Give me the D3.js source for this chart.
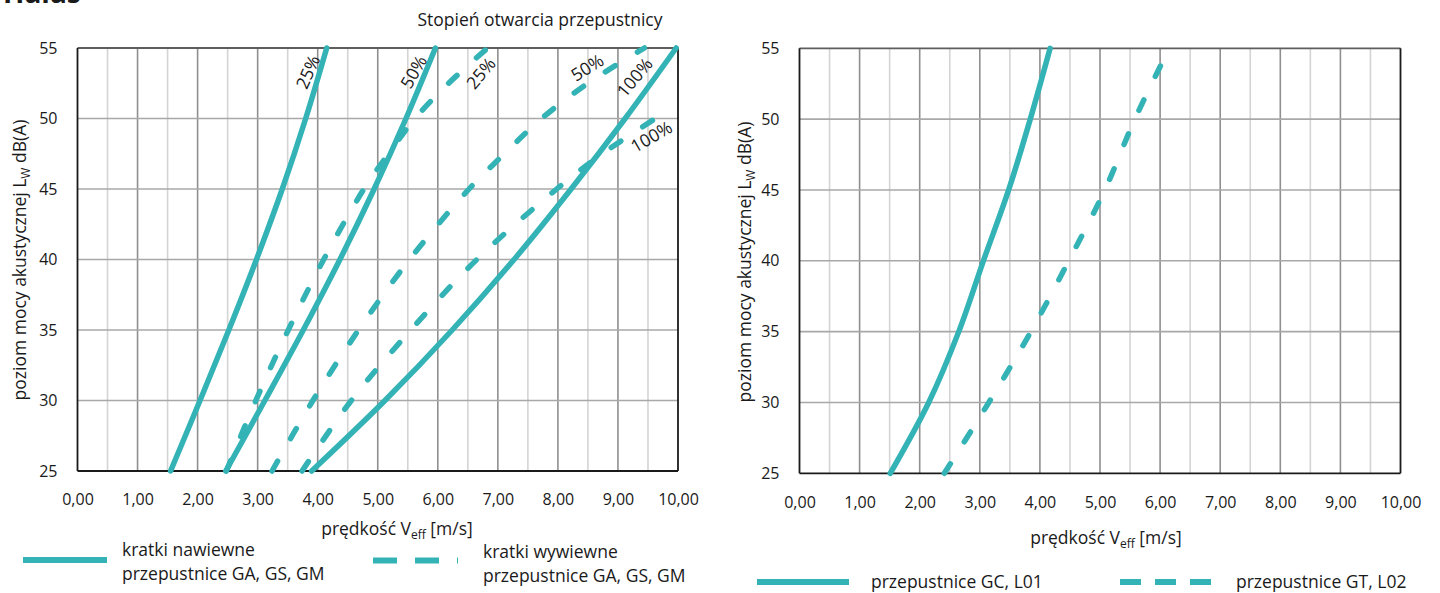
<!DOCTYPE html>
<html>
<head>
<meta charset="utf-8">
<script src="https://cdn.jsdelivr.net/npm/d3@7"></script>
<style>
  body { margin: 0; background: #fff; }
  text { font-family: "Open Sans", "Noto Sans", sans-serif; fill: #1a1a1a; }
</style>
</head>
<body>
<svg id="chart" width="1440" height="593"></svg>
<script>
// ---- data: sound power level L_W [dB(A)] vs. effective velocity [m/s] ----
const velocityTicks = [0, 1, 2, 3, 4, 5, 6, 7, 8, 9, 10];
const levelTicks = [25, 30, 35, 40, 45, 50, 55];

// supply grilles, dampers GA, GS, GM (solid)
const supplyLevels = [25, 30, 35, 40, 45, 50, 55];
const supply25 = [1.55, 2.04, 2.52, 2.98, 3.41, 3.80, 4.15];
const supply50 = [2.47, 3.12, 3.76, 4.37, 4.94, 5.47, 5.96];
const supply100 = [3.90, 5.12, 6.24, 7.27, 8.22, 9.12, 9.97];

// exhaust grilles, dampers GA, GS, GM (dashed)
const exhaust25Levels = [25, 30, 35, 40, 45, 47.5, 50, 52.5, 55];
const exhaust25 = [2.48, 2.97, 3.51, 4.10, 4.77, 5.18, 5.62, 6.18, 6.83];
const exhaust50Levels = [25, 30, 35, 40, 45, 47.5, 50, 52.5, 55];
const exhaust50 = [3.24, 3.92, 4.68, 5.53, 6.52, 7.11, 7.73, 8.50, 9.44];
const exhaust100Levels = [25, 30, 35, 40, 45, 47.5, 50.4];
const exhaust100 = [3.74, 4.56, 5.55, 6.65, 7.98, 8.74, 9.77];

// dampers GC, L01 (solid) and GT, L02 (dashed)
const gcLevels = [25, 30, 35, 40, 45, 50, 55];
const gcVelocity = [1.51, 2.15, 2.65, 3.06, 3.48, 3.84, 4.17];
const gtLevels = [25, 30, 35, 40, 45, 50, 54.3];
const gtVelocity = [2.41, 3.15, 3.85, 4.48, 5.08, 5.58, 6.07];

// opening-degree labels placed along the curves (value coordinates)
const openingLabels = ["25%", "50%", "25%", "50%", "100%", "100%"];
const openingLabelV = [3.84, 5.60, 6.72, 8.49, 9.28, 9.56];
const openingLabelL = [53.3, 53.3, 53.2, 53.6, 52.9, 48.7];
const openingLabelAngle = [-66, -60, -50, -32, -50, -30];

// ---- drawing ----
const TEAL = "#33b3b5";
const TEXT_SIZE = 17.5;
const svg = d3.select("#chart");
const fmt = d => d.toFixed(2).replace(".", ",");

function panel(left, right, top, bottom) {
  const x = d3.scaleLinear().domain([0, 10]).range([left, right]);
  const y = d3.scaleLinear().domain([25, 55]).range([bottom, top]);
  const g = svg.append("g");

  // vertical grid: every 0.5 m/s, integer lines darker
  const halfSteps = d3.range(1, 20).map(i => i / 2);
  g.selectAll(".vgrid").data(halfSteps).join("line")
    .attr("x1", d => x(d)).attr("x2", d => x(d))
    .attr("y1", top).attr("y2", bottom)
    .attr("stroke", d => Number.isInteger(d) ? "#8f8f8f" : "#d4d4d4")
    .attr("stroke-width", 1.6);
  // horizontal grid
  g.selectAll(".hgrid").data(levelTicks.slice(1, -1)).join("line")
    .attr("x1", left).attr("x2", right)
    .attr("y1", d => y(d)).attr("y2", d => y(d))
    .attr("stroke", "#a8a8a8").attr("stroke-width", 1.6);

  // frame
  g.append("line").attr("x1", left).attr("x2", right).attr("y1", top).attr("y2", top)
    .attr("stroke", "#5e5e5e").attr("stroke-width", 1.8);
  g.append("line").attr("x1", left).attr("x2", left).attr("y1", top).attr("y2", bottom)
    .attr("stroke", "#1a1a1a").attr("stroke-width", 1.8);
  g.append("line").attr("x1", right).attr("x2", right).attr("y1", top).attr("y2", bottom)
    .attr("stroke", "#1a1a1a").attr("stroke-width", 1.8);
  g.append("line").attr("x1", left).attr("x2", right).attr("y1", bottom).attr("y2", bottom)
    .attr("stroke", "#1a1a1a").attr("stroke-width", 1.8);

  // axes
  const xAxis = g.append("g").attr("transform", `translate(0,${bottom})`)
    .call(d3.axisBottom(x).tickValues(velocityTicks).tickFormat(fmt).tickSize(0).tickPadding(23));
  const yAxis = g.append("g").attr("transform", `translate(${left},0)`)
    .call(d3.axisLeft(y).tickValues(levelTicks).tickSize(0).tickPadding(20));
  [xAxis, yAxis].forEach(a => {
    a.select(".domain").remove();
    a.selectAll("text").attr("font-size", 16).attr("font-family", null).attr("fill", "#1a1a1a");
  });
  return { x, y, g };
}

function curve(p, vel, lev, dashed) {
  const pts = vel.map((v, i) => [v, lev[i]]);
  const line = d3.line().x(d => p.x(d[0])).y(d => p.y(d[1])).curve(d3.curveCatmullRom.alpha(0.5));
  p.g.append("path").attr("d", line(pts))
    .attr("fill", "none").attr("stroke", TEAL).attr("stroke-width", 5.5)
    .attr("stroke-linecap", "round")
    .attr("stroke-dasharray", dashed ? "11.5,26" : null);
}

function yTitle(cx, cy) {
  const t = svg.append("text").attr("transform", `translate(${cx},${cy}) rotate(-90)`)
    .attr("text-anchor", "middle").attr("font-size", TEXT_SIZE).attr("dy", "0.35em");
  t.append("tspan").text("poziom mocy akustycznej L");
  t.append("tspan").text("W").attr("font-size", 12).attr("dy", 4);
  t.append("tspan").text(" dB(A)").attr("dy", -4);
}
function xTitle(cx, by) {
  const t = svg.append("text").attr("x", cx).attr("y", by).attr("text-anchor", "middle").attr("font-size", TEXT_SIZE);
  t.append("tspan").text("prędkość V");
  t.append("tspan").text("eff").attr("font-size", 12).attr("dy", 4);
  t.append("tspan").text(" [m/s]").attr("dy", -4);
}

// left panel
const A = panel(77.5, 678, 48, 471);
curve(A, supply25, supplyLevels, false);
curve(A, supply50, supplyLevels, false);
curve(A, supply100, supplyLevels, false);
curve(A, exhaust25, exhaust25Levels, true);
curve(A, exhaust50, exhaust50Levels, true);
curve(A, exhaust100, exhaust100Levels, true);

openingLabels.forEach((s, i) => {
  A.g.append("text")
    .attr("transform", `translate(${A.x(openingLabelV[i])},${A.y(openingLabelL[i])}) rotate(${openingLabelAngle[i]})`)
    .attr("text-anchor", "middle").attr("dy", "0.35em").attr("font-size", TEXT_SIZE).text(s);
});

// right panel
const B = panel(799.5, 1400.5, 48.3, 473.3);
curve(B, gcVelocity, gcLevels, false);
curve(B, gtVelocity, gtLevels, true);

// titles
svg.append("text").attr("x", 3).attr("y", 3).attr("font-size", 28).attr("font-weight", 700).text("Hałas");
svg.append("text").attr("x", 540).attr("y", 26).attr("text-anchor", "middle").attr("font-size", TEXT_SIZE)
  .text("Stopień otwarcia przepustnicy");
yTitle(20, 260);
yTitle(745, 262);
xTitle(397, 535);
xTitle(1106, 544);

// legends
function legendSwatch(x1, x2, y, dash) {
  svg.append("line").attr("x1", x1).attr("x2", x2).attr("y1", y).attr("y2", y)
    .attr("stroke", TEAL).attr("stroke-width", 6)
    .attr("stroke-dasharray", dash);
}
function legendText(x, y, lines) {
  lines.forEach((s, i) => svg.append("text").attr("x", x).attr("y", y + i * 24).attr("font-size", TEXT_SIZE).text(s));
}
legendSwatch(23, 107, 560, null);
legendText(122, 556, ["kratki nawiewne", "przepustnice GA, GS, GM"]);
legendSwatch(373, 458, 560.5, "24,18");
legendText(483, 558, ["kratki wywiewne", "przepustnice GA, GS, GM"]);
legendSwatch(757, 849, 582, null);
legendText(871, 588, ["przepustnice GC, L01"]);
legendSwatch(1120, 1211, 582, "21,14");
legendText(1236, 588, ["przepustnice GT, L02"]);
</script>
</body>
</html>
